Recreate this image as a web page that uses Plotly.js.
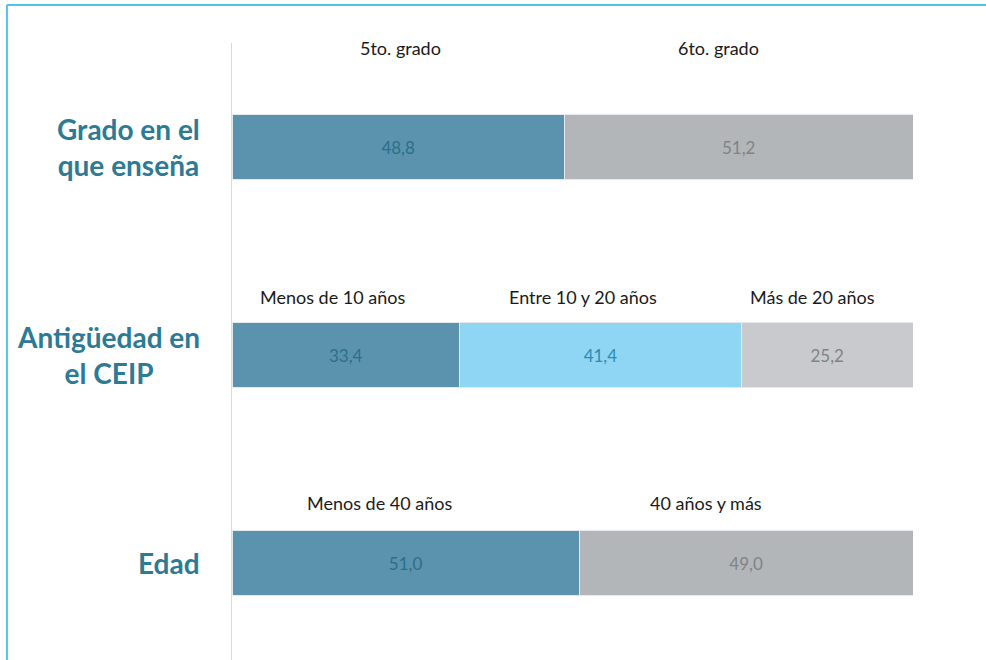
<!DOCTYPE html>
<html>
<head>
<meta charset="utf-8">
<script src="https://cdn.plot.ly/plotly-3.0.1.min.js"></script>
<style>
  html, body { margin: 0; padding: 0; background: #ffffff; }
  #chart { width: 986px; height: 660px; }
</style>
</head>
<body>
<div id="chart"></div>
<script>
// ---- Data ----
const categories = ['Grado en el que enseña', 'Antigüedad en el CEIP', 'Edad'];
const categoryLabels = ['Grado en el<br>que enseña', 'Antigüedad en<br>el CEIP', 'Edad'];

const gradoLabels = ['5to. grado', '6to. grado'];
const gradoValues = [48.8, 51.2];

const antigLabels = ['Menos de 10 años', 'Entre 10 y 20 años', 'Más de 20 años'];
const antigValues = [33.4, 41.4, 25.2];

const edadLabels = ['Menos de 40 años', '40 años y más'];
const edadValues = [51.0, 49.0];

// ---- Styles ----
const TEAL = '#5b93ae', LIGHTBLUE = '#8ed6f4', GREY1 = '#b3b6b9', GREY2 = '#c8cacd';
const TXT_TEAL = '#2b6f8b', TXT_BLUE = '#2f8ab3', TXT_GREY = '#7f8386';

const rows = [
  { cat: categories[0], labels: gradoLabels, values: gradoValues,
    colors: [TEAL, GREY1], txt: [TXT_TEAL, TXT_GREY], labelY: -0.478, nudge: [0.3, -2.9] },
  { cat: categories[1], labels: antigLabels, values: antigValues,
    colors: [TEAL, LIGHTBLUE, GREY2], txt: [TXT_TEAL, TXT_BLUE, TXT_GREY], labelY: 0.72, nudge: [-2.0, -2.6, -2.1] },
  { cat: categories[2], labels: edadLabels, values: edadValues,
    colors: [TEAL, GREY1], txt: [TXT_TEAL, TXT_GREY], labelY: 1.71, nudge: [-3.8, -5.9] }
];

const traces = [];
const annotations = [];
rows.forEach((r, ri) => {
  let cum = 0;
  r.values.forEach((v, i) => {
    traces.push({
      type: 'bar', orientation: 'h',
      y: [r.cat], x: [v],
      name: r.labels[i],
      width: 0.3125,
      marker: { color: r.colors[i], line: { color: '#e6e9ec', width: 1 } },
      texttemplate: '%{x:.1f}',
      textposition: 'inside',
      insidetextanchor: 'middle',
      textangle: 0,
      constraintext: 'none',
      textfont: { family: 'Lato, "Open Sans", sans-serif', size: 17, color: r.txt[i] },
      hoverinfo: 'skip',
      showlegend: false
    });
    const mid = cum + v / 2;
    annotations.push({
      xref: 'x', yref: 'y', x: mid + r.nudge[i], y: r.labelY,
      text: r.labels[i], showarrow: false,
      xanchor: 'center', yanchor: 'middle',
      font: { family: 'Lato, "Open Sans", sans-serif', size: 18, color: '#1a1a1a' }
    });
    cum += v;
  });
  annotations.push({
    xref: 'paper', yref: 'y', x: -0.044, y: ri,
    text: categoryLabels[ri], showarrow: false,
    xanchor: 'right', yanchor: 'middle', align: 'center',
    font: { family: 'Lato, "Open Sans", sans-serif', size: 28, color: '#2d7a95', weight: 700 }
  });
});

const layout = {
  width: 986, height: 660,
  margin: { l: 232, r: 73, t: 43, b: 0, pad: 0 },
  paper_bgcolor: '#ffffff', plot_bgcolor: '#ffffff',
  barmode: 'stack',
  separators: ',.',
  showlegend: false,
  xaxis: { range: [0, 100], showgrid: false, zeroline: false, showticklabels: false, showline: false, fixedrange: true },
  yaxis: { type: 'category', categoryarray: categories, categoryorder: 'array',
           range: [2.466, -0.5], showgrid: false, zeroline: false, showticklabels: false,
           showline: true, linecolor: '#cfdce6', linewidth: 1.5, ticks: '' },
  annotations: annotations,
  shapes: [
    { type: 'line', xref: 'paper', yref: 'paper', x0: -0.3305, x1: 1.12, y0: 1.0616, y1: 1.0616,
      line: { color: '#4fc3ef', width: 2 } },
    { type: 'line', xref: 'paper', yref: 'paper', x0: -0.3305, x1: -0.3305, y0: 1.0616, y1: -0.01,
      line: { color: '#4fc3ef', width: 2 } }
  ]
};

Plotly.newPlot('chart', traces, layout, { displayModeBar: false, staticPlot: true });
</script>
</body>
</html>
